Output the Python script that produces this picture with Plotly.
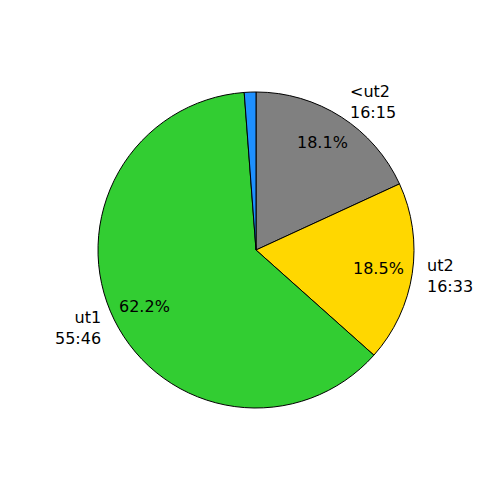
import math
import plotly.graph_objects as go

# Data (durations in seconds)
labels = ["<ut2", "ut2", "ut1", ""]
times = ["16:15", "16:33", "55:46", ""]
seconds = [975, 993, 3346, 64]
colors = ["#808080", "#FFD700", "#32CD32", "#1E90FF"]

W = H = 500
OFF = 8  # page body margin offset
cx, cy = 256 - OFF, 250 - OFF
R = 158
ml, mr, mt, mb = cx - R, W - cx - R, cy - R, H - cy - R
pw, ph = W - ml - mr, H - mt - mb
rx, ry = 155, 160  # label placement radii
FONT = dict(family="DejaVu Sans", size=16, color="black")

fig = go.Figure(go.Pie(
    values=seconds,
    labels=[f"s{i}" for i in range(len(seconds))],
    marker=dict(colors=colors, line=dict(color="black", width=1)),
    sort=False, direction="clockwise", rotation=0,
    textinfo="none", hoverinfo="skip", showlegend=False,
))

total = sum(seconds)
ann = []
start = 90.0
for lab, t, v in zip(labels, times, seconds):
    frac = v / total
    sweep = frac * 360
    mid = math.radians(start - sweep / 2)
    start -= sweep
    if not lab:
        continue
    c, s = math.cos(mid), math.sin(mid)
    # outer label
    px = cx + 1.1 * rx * c
    py = cy - 1.1 * ry * s
    anchor = "left" if c > 0 else "right"
    ann.append(dict(x=(px - ml) / pw, y=1 - (py - mt) / ph, xref="paper", yref="paper",
                    text=f"{lab}<br>{t}", showarrow=False, xanchor=anchor, yanchor="middle",
                    align=anchor, font=FONT))
    # percentage
    px = cx + 0.8 * rx * c
    py = cy - 0.8 * ry * s
    ann.append(dict(x=(px - ml) / pw, y=1 - (py - mt) / ph, xref="paper", yref="paper",
                    text=f"{frac*100:.1f}%", showarrow=False, xanchor="center", yanchor="middle",
                    font=FONT))

fig.update_layout(
    width=W, height=H,
    margin=dict(l=ml, r=mr, t=mt, b=mb, pad=0),
    paper_bgcolor="white", plot_bgcolor="white",
    annotations=ann,
)
fig.write_html("out.html")
